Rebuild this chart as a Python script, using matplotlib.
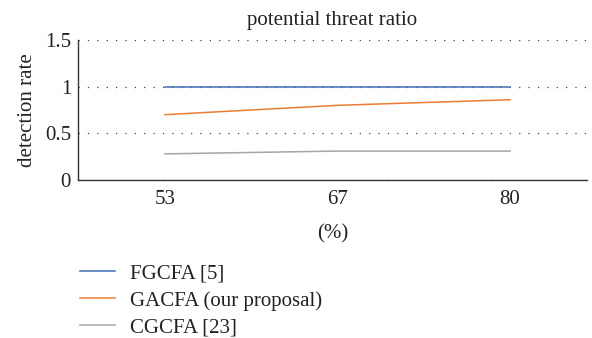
import matplotlib
matplotlib.use("Agg")
import matplotlib.pyplot as plt

plt.rcParams['font.family'] = ['Liberation Serif', 'DejaVu Serif']

# data
ratios = ["53", "67", "80"]
fgcfa = [1.0, 1.0, 1.0]
gacfa = [0.70, 0.80, 0.86]
cgcfa = [0.28, 0.31, 0.31]

fs = 15
fig = plt.figure(figsize=(5.92, 3.38), dpi=100)
ax = fig.add_axes([78/592, 1 - 180/338, (587-78)/592, 140/338])

x = range(len(ratios))
ax.plot(x, fgcfa, color='#3F6EB3', lw=1.1, label='FGCFA [5]')
ax.plot(x, gacfa, color='#ED7D31', lw=1.1, label='GACFA (our proposal)')
ax.plot(x, cgcfa, color='#A5A5A5', lw=1.1, label='CGCFA [23]')

ax.set_xlim(-0.504, 2.446)
ax.set_ylim(0, 1.5)
ax.set_yticks([0, 0.5, 1, 1.5])
ax.set_yticklabels(['0', '0.5', '1', '1.5'])
ax.set_xticks(list(x))
ax.set_xticklabels(ratios)
ax.tick_params(length=0, labelsize=fs, colors='#222222')
ax.tick_params(axis='x', pad=7)
ax.tick_params(axis='y', pad=5)
ax.grid(axis='y', linestyle=(0, (1, 6.5)), color='#444444', lw=0.9)
ax.set_axisbelow(True)
for s in ['top', 'right']:
    ax.spines[s].set_visible(False)
for s in ['left', 'bottom']:
    ax.spines[s].set_color('#333333')
    ax.spines[s].set_linewidth(1.0)

ax.set_title('potential threat ratio', fontsize=fs, color='#222222', pad=11)
ax.set_ylabel('detection rate', fontsize=fs, color='#222222', labelpad=6)
ax.set_xlabel('(%)', fontsize=fs, color='#222222', labelpad=11)

fig.legend(loc='upper left', bbox_to_anchor=(61/592, 1 - 245/338), frameon=False,
           fontsize=fs, handlelength=1.7, handletextpad=0.7, labelspacing=0.36,
           labelcolor='#222222')

fig.savefig('out.png', dpi=100)
